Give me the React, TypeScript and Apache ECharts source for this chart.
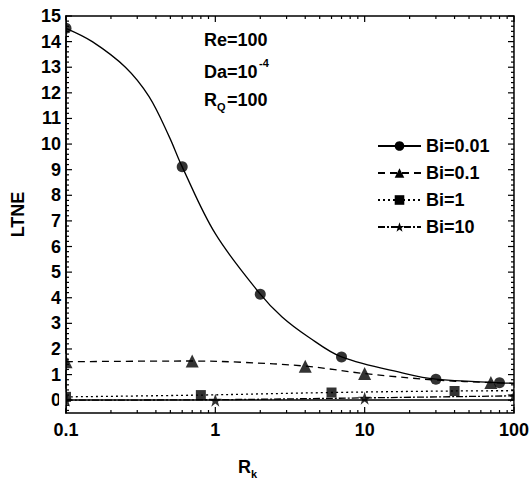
import React, { useEffect, useRef } from "react";
import * as echarts from "echarts";

const FONT = '"Liberation Sans", Arial, Helvetica, sans-serif';

// Markers (data points)
const mkBi001: [number, number][] = [[0.1, 14.52], [0.6, 9.11], [2, 4.14], [7, 1.69], [30, 0.82], [80, 0.68]];
const mkBi01: [number, number][] = [[0.1, 1.5], [0.7, 1.53], [4, 1.33], [10, 1.04], [70, 0.69]];
const mkBi1: [number, number][] = [[0.1, 0.13], [0.8, 0.2], [6, 0.3], [40, 0.36]];
const mkBi10: [number, number][] = [[0.1, 0.0], [1, 0.0], [10, 0.08], [100, 0.17]];

// Fitted curves
const cvBi001: [number, number][] = [[0.1, 14.52], [0.15, 14.0], [0.25, 13.0], [0.36, 11.85], [0.49, 10.3], [0.6, 9.11], [1.0, 6.5], [2, 4.14], [2.8, 3.25], [4.2, 2.47], [7, 1.69], [18.7, 1.04], [30, 0.82], [80, 0.68], [100, 0.66]];
const cvBi01: [number, number][] = [[0.1, 1.5], [0.7, 1.53], [1.5, 1.48], [4, 1.33], [10, 1.04], [31, 0.78], [70, 0.69], [100, 0.66]];
const cvBi1: [number, number][] = [[0.1, 0.13], [0.8, 0.2], [6, 0.3], [40, 0.36], [100, 0.37]];
const cvBi10: [number, number][] = [[0.1, 0.0], [1, 0.02], [10, 0.09], [100, 0.17]];

const names = ["Bi=0.01", "Bi=0.1", "Bi=1", "Bi=10"];

const X_MIN = 0.1, X_MAX = 100, Y_MIN = -0.5, Y_MAX = 15;

// Tick positions
const xMajor = [0.1, 1, 10, 100];
const xMinorMult = [2, 3, 4, 5, 6, 7, 8, 9];
const yMajorStep = 1;
const yMinorStep = 0.2;

const STAR = "path://M12,0 L14.9,8.3 L23.4,8.3 L16.5,13.3 L19.1,21.6 L12,16.5 L4.9,21.6 L7.5,13.3 L0.6,8.3 L9.1,8.3 Z";

export default function App() {
  const ref = useRef<HTMLDivElement>(null);
  useEffect(() => {
    if (!ref.current) return;
    const chart = echarts.init(ref.current, null, { renderer: "svg" });

    const ticks: [number, number, number][] = [];
    xMajor.forEach((v) => ticks.push([v, 0, 0]));
    [0.1, 1, 10].forEach((d) => xMinorMult.forEach((m) => ticks.push([+(d * m).toPrecision(3), 0, 1])));
    for (let i = 0; i <= 15; i += yMajorStep) ticks.push([1, i, 2]);
    for (let i = -2; i <= 74; i++) {
      const v = +(i * yMinorStep).toFixed(2);
      if (Math.abs(v - Math.round(v)) > 1e-6) ticks.push([1, v, 3]);
    }

    const lineCol = "#000";
    const mkSeries = (name: string, curve: any, marks: any, symbol: string, size: number, type: any) => [
      {
        name, type: "line", data: curve, smooth: 0.35, symbol, symbolSize: size, showSymbol: false,
        lineStyle: { color: lineCol, width: 1.3, type }, itemStyle: { color: lineCol }, z: 3,
      },
      {
        name, type: "scatter", data: marks, symbol, symbolSize: size,
        itemStyle: { color: lineCol }, z: 4,
      },
    ];

    const tickStyle = { stroke: "#000", lineWidth: 1.2 };
    const txt = (left: number, top: number, text: string, size: number) =>
      ({ type: "text", left, top, z: 20, style: { text, fill: "#000", font: `bold ${size}px ${FONT}` } });

    chart.setOption({
      animation: false,
      grid: { left: 66, right: 16, top: 16, bottom: 71, show: true, borderColor: "#000", borderWidth: 1.5, backgroundColor: "transparent" },
      xAxis: {
        type: "log", logBase: 10, min: X_MIN, max: X_MAX,
        axisLine: { show: true, lineStyle: { color: "#000", width: 1.5 } },
        axisTick: { show: false }, splitLine: { show: false }, minorTick: { show: false },
        axisLabel: { color: "#000", fontFamily: FONT, fontWeight: "bold", fontSize: 18, margin: 8, formatter: (v: number) => String(+v.toPrecision(3)) },
      },
      yAxis: {
        type: "value", min: Y_MIN, max: Y_MAX, interval: 0.5,
        axisLine: { show: true, lineStyle: { color: "#000", width: 1.5 } },
        axisTick: { show: false }, splitLine: { show: false },
        axisLabel: {
          color: "#000", fontFamily: FONT, fontWeight: "bold", fontSize: 18, margin: 5,
          formatter: (v: number) => { const r = Math.round(v * 2) / 2; return r % 1 === 0 ? String(r) : ""; },
        },
        name: "LTNE", nameLocation: "middle", nameGap: 39, nameRotate: 90,
        nameTextStyle: { color: "#000", fontFamily: FONT, fontWeight: "bold", fontSize: 18 },
      },
      legend: {
        data: names, orient: "vertical", left: 377, top: 136, padding: 0, itemWidth: 43, itemHeight: 12, itemGap: 7,
        textStyle: { color: "#000", fontFamily: FONT, fontWeight: "bold", fontSize: 18, lineHeight: 20, padding: [0, 0, 0, 0] },
        selectedMode: false,
      },
      graphic: [
        txt(204, 31, "Re=100", 18),
        txt(204, 63, "Da=10", 18),
        txt(259, 57, "-4", 11),
        txt(204, 91, "R", 18),
        txt(217, 101, "Q", 11),
        txt(227, 91, "=100", 18),
        txt(238, 458, "R", 18),
        txt(251, 468, "k", 11),
      ],
      series: [
        ...mkSeries(names[0], cvBi001, mkBi001, "circle", 11, "solid"),
        ...mkSeries(names[1], cvBi01, mkBi01, "triangle", 13, [7, 5]),
        ...mkSeries(names[2], cvBi1, mkBi1, "rect", 10, [2, 3]),
        ...mkSeries(names[3], cvBi10, mkBi10, STAR, 13, [7, 2, 2, 2]),
        {
          type: "custom", data: ticks, silent: true, clip: false, z: 5,
          renderItem: (_p: any, api: any) => {
            const kind = api.value(2);
            const len = kind % 2 === 0 ? 6 : 3;
            if (kind < 2) {
              const v = api.value(0);
              const b = api.coord([v, Y_MIN]);
              const t = api.coord([v, Y_MAX]);
              return {
                type: "group", children: [
                  { type: "line", shape: { x1: b[0], y1: b[1], x2: b[0], y2: b[1] - len }, style: tickStyle },
                  { type: "line", shape: { x1: t[0], y1: t[1], x2: t[0], y2: t[1] + len }, style: tickStyle },
                ],
              };
            }
            const v = api.value(1);
            const l = api.coord([X_MIN, v]);
            const r = api.coord([X_MAX, v]);
            return {
              type: "group", children: [
                { type: "line", shape: { x1: l[0], y1: l[1], x2: l[0] + len, y2: l[1] }, style: tickStyle },
                { type: "line", shape: { x1: r[0], y1: r[1], x2: r[0] - len, y2: r[1] }, style: tickStyle },
              ],
            };
          },
        },
      ],
    });

    // White masks outside the frame so that edge markers appear clipped, like the reference
    const masks: any[] = [];
    const allMarks = [mkBi001, mkBi01, mkBi1, mkBi10];
    allMarks.forEach((arr) => arr.forEach(([x, y]) => {
      if (x !== X_MIN && x !== X_MAX) return;
      const p = chart.convertToPixel({ gridIndex: 0 }, [x, y]) as number[];
      const edge = x === X_MIN ? p[0] - 0.8 : p[0] + 0.8;
      masks.push({
        type: "rect", z: 10, silent: true,
        shape: x === X_MIN ? { x: edge - 6, y: p[1] - 8, width: 6, height: 16 } : { x: edge, y: p[1] - 8, width: 8, height: 16 },
        style: { fill: "#fff" },
      });
    }));
    chart.setOption({ graphic: masks.map((m, i) => ({ ...m, id: "mask" + i })) }, { replaceMerge: [] } as any);

    return () => chart.dispose();
  }, []);
  return <div ref={ref} style={{ position: "absolute", left: 0, top: 0, width: 532, height: 484, background: "#fff" }} />;
}
